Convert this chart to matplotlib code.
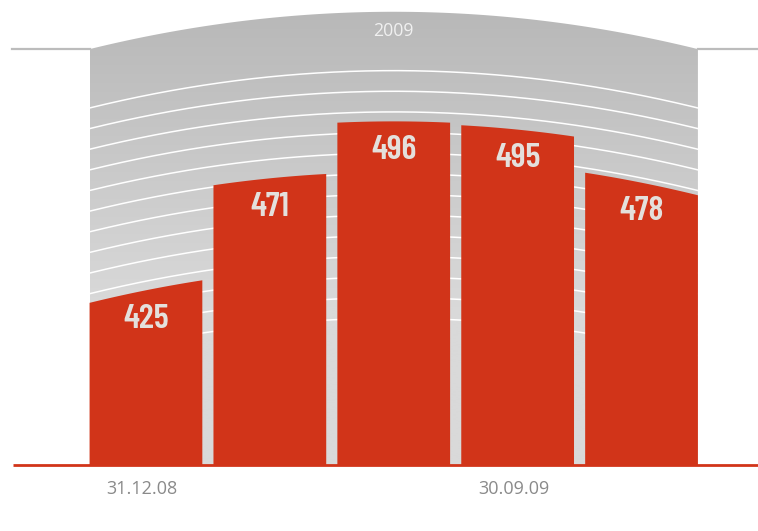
import numpy as np
import matplotlib.pyplot as plt
from matplotlib.patches import Polygon

# Datos del gráfico
valores = [425, 471, 496, 495, 478]
fechas = ['31.12.08', '30.09.09']
pos_fechas = [0, 3]
anio = '2009'

rojo = '#d13419'

fig = plt.figure(figsize=(7.58, 5.31), dpi=100)
ax = fig.add_axes([0, 0, 1, 1])
ax.set_xlim(-1.178, 4.94)
ax.set_ylim(294.2, 555.8)
ax.axis('off')

x = np.arange(len(valores))
ancho = 0.91
izq = x[0] - ancho / 2
der = x[-1] + ancho / 2
centro = (izq + der) / 2
tope = 550
base = 326.7
curva = 18.4 / (der - centro) ** 2


def arco(xx):
    # desplazamiento vertical del arco (0 en el centro)
    return -curva * (np.asarray(xx) - centro) ** 2


# Panel gris con borde superior curvo
xs = np.linspace(izq, der, 300)
verts = [(izq, base)] + list(zip(xs, tope + arco(xs))) + [(der, base)]
panel = Polygon(verts, closed=True, facecolor='none', edgecolor='none')
ax.add_patch(panel)

ys = np.linspace(base, tope, 400)
gris = np.interp(ys, [405, 550], [217, 184]) / 255
img = np.repeat(gris[:, None], 3, axis=1)[:, None, :]
fondo = ax.imshow(img, extent=[izq, der, base, tope], origin='lower',
                  aspect='auto', interpolation='bilinear', zorder=1)
fondo.set_clip_path(panel)

# Líneas blancas curvas
for nivel in np.linspace(521, 399, 13):
    ax.plot(xs, nivel + arco(xs), color='white', lw=1.1, zorder=2)

# Líneas grises laterales
borde = tope + arco(izq)
ax.plot([-1.081, izq], [borde, borde], color='#bcbcbc', lw=1.6, zorder=2)
ax.plot([der, 4.94], [borde, borde], color='#bcbcbc', lw=1.6, zorder=2)

# Barras con tope curvo
for i, v in zip(x, valores):
    xb = np.linspace(i - ancho / 2, i + ancho / 2, 60)
    pts = [(xb[0], base)] + list(zip(xb, v + arco(xb))) + [(xb[-1], base)]
    ax.add_patch(Polygon(pts, closed=True, facecolor=rojo, edgecolor='none', zorder=3))
    ax.annotate(str(v), (i, v + arco(i)), xytext=(0, -21), textcoords='offset points',
                ha='center', va='center', fontsize=25, fontweight=600,
                family='Barlow Condensed', color='#e4e0dc', zorder=5)

# Línea base
ax.plot([-1.073, 4.94], [base, base], color=rojo, lw=2, zorder=4, solid_capstyle='butt')

# Textos
ax.text(centro, 540.6, anio, ha='center', va='center', fontsize=12.8,
        family='Open Sans', color='#f0f0f0', zorder=5)
for p, f in zip(pos_fechas, fechas):
    ax.annotate(f, (p - 0.03, base), xytext=(0, -17), textcoords='offset points',
                ha='center', va='center', fontsize=13, family='Open Sans', color='#8a8a8a')

fig.savefig('out.png', dpi=100)
